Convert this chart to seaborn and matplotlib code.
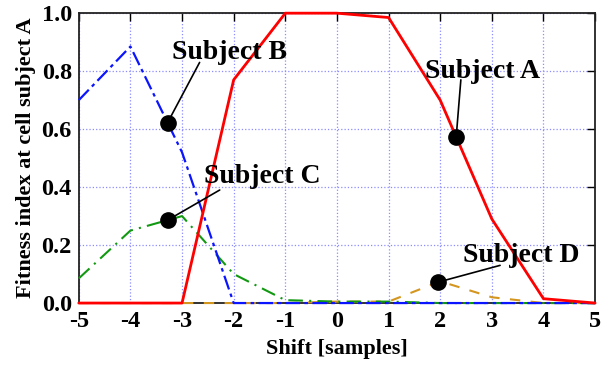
import matplotlib
matplotlib.use("Agg")
import matplotlib.pyplot as plt
import numpy as np
import pandas as pd
import seaborn as sns

# shift values and fitness index per subject
shift = [-5, -4, -3, -2, -1, 0, 1, 2, 3, 4, 5]
subject_a = [0.0, 0.0, 0.0, 0.77, 1.0, 1.0, 0.985, 0.70, 0.29, 0.015, 0.0]
subject_b = [0.70, 0.885, 0.52, 0.0, 0.0, 0.0, 0.0, 0.0, 0.0, 0.0, 0.0]
subject_c = [0.085, 0.25, 0.30, 0.10, 0.01, 0.005, 0.005, 0.0, 0.0, 0.0, 0.0]
subject_d = [0.0, 0.0, 0.0, 0.0, 0.0, 0.005, 0.005, 0.075, 0.02, 0.0, 0.0]

x_ticks = [-5, -4, -3, -2, -1, 0, 1, 2, 3, 4, 5]
y_ticks = [0.0, 0.2, 0.4, 0.6, 0.8, 1.0]

# label, marker x on the curve, leader end, text centre
labels = {
    "Subject A": (2.31, (2.40, 0.77), (2.83, 0.80)),
    "Subject B": (-3.28, (-2.66, 0.83), (-2.09, 0.865)),
    "Subject C": (-3.28, (-2.27, 0.39), (-1.45, 0.435)),
    "Subject D": (1.96, (3.16, 0.13), (3.57, 0.165)),
}

df = pd.DataFrame({"shift": shift, "Subject A": subject_a, "Subject B": subject_b,
                   "Subject C": subject_c, "Subject D": subject_d})

sns.set_style("white")
plt.rcParams["font.family"] = ["Liberation Serif", "DejaVu Serif"]
plt.rcParams["font.weight"] = "bold"
for k in ["text.color", "axes.labelcolor", "xtick.color", "ytick.color"]:
    plt.rcParams[k] = "black"

fig = plt.figure(figsize=(6.06, 3.66), dpi=100)
ax = fig.add_axes([0.130, 0.172, 0.852, 0.792])

styles = {
    "Subject D": dict(color="#d4961e", lw=1.5, ls=(0, (5, 5))),
    "Subject C": dict(color="#119911", lw=1.5, ls=(0, (7, 3, 1, 3))),
    "Subject B": dict(color="#0a14ff", lw=1.6, ls=(0, (6.5, 2, 1.6, 2))),
    "Subject A": dict(color="#ff0000", lw=2.0, ls="-"),
}
for name, st in styles.items():
    sns.lineplot(data=df, x="shift", y=name, ax=ax, zorder=3, clip_on=False, **st)

for name, (mx, end, txt) in labels.items():
    my = np.interp(mx, df["shift"], df[name])
    ax.plot([mx, end[0]], [my, end[1]], color="black", lw=1.2, zorder=5)
    ax.plot(mx, my, "o", color="black", ms=11, zorder=6)
    ax.text(txt[0], txt[1], name, ha="center", va="center", fontsize=20,
            fontweight="bold", zorder=7)

ax.set_xlim(-5, 5)
ax.set_ylim(0, 1)
ax.set_xticks(x_ticks)
ax.set_yticks(y_ticks)
ax.set_xticklabels([str(v) for v in x_ticks], fontsize=17.5, fontweight="bold")
ax.set_yticklabels([f"{v:.1f}" for v in y_ticks], fontsize=17.5, fontweight="bold")
ax.tick_params(direction="in", length=6, width=1, top=True, right=True, pad=5)
ax.tick_params(axis="x", pad=6)
ax.grid(True, color="#8c8cff", linestyle=":", linewidth=0.9)
for s in ax.spines.values():
    s.set_color("#222222")
    s.set_linewidth(1.3)

ax.set_xlabel("Shift [samples]", fontsize=16, fontweight="bold", labelpad=5)
ax.set_ylabel("Fitness index at cell subject A", fontsize=16, fontweight="bold", labelpad=4)

fig.savefig("out.png", dpi=100)
